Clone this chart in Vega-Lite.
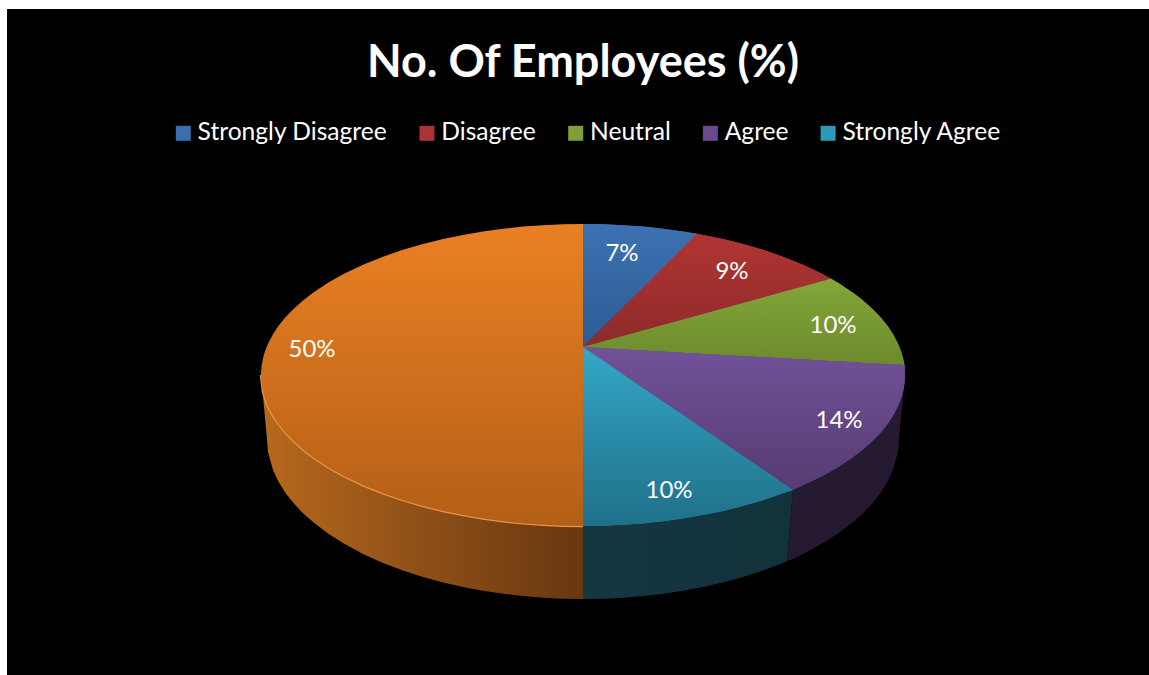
{
  "$schema": "https://vega.github.io/schema/vega-lite/v6.json",
  "width": 1142,
  "height": 666,
  "autosize": {"type": "none"},
  "padding": {"left": 7, "top": 9, "right": 0, "bottom": 0},
  "background": "#ffffff",
  "view": {"fill": "#000000", "stroke": null},
  "title": {
    "text": "No. Of Employees (%)",
    "font": "Lato",
    "fontWeight": "bold",
    "fontSize": 45,
    "color": "#ffffff",
    "anchor": "middle",
    "dx": 5,
    "baseline": "alphabetic",
    "offset": -113
  },
  "datasets": {
    "faces": [
      {"slice": "Strongly Disagree", "x": 0, "y": 123, "y2": 0},
      {"slice": "Strongly Disagree", "x": 20, "y": 122.7, "y2": 19.9},
      {"slice": "Strongly Disagree", "x": 40, "y": 121.8, "y2": 39.7},
      {"slice": "Strongly Disagree", "x": 60, "y": 120.4, "y2": 59.6},
      {"slice": "Strongly Disagree", "x": 80, "y": 118.3, "y2": 79.4},
      {"slice": "Strongly Disagree", "x": 100, "y": 115.5, "y2": 99.3},
      {"slice": "Strongly Disagree", "x": 114, "y": 113.2, "y2": 113.2},

      {"slice": "Disagree", "x": 0, "y": 0, "y2": 0},
      {"slice": "Disagree", "x": 114, "y": 113.2, "y2": 31.4},
      {"slice": "Disagree", "x": 120, "y": 112.1, "y2": 33},
      {"slice": "Disagree", "x": 140, "y": 108, "y2": 38.6},
      {"slice": "Disagree", "x": 160, "y": 103, "y2": 44.1},
      {"slice": "Disagree", "x": 180, "y": 97.2, "y2": 49.6},
      {"slice": "Disagree", "x": 200, "y": 90.3, "y2": 55.1},
      {"slice": "Disagree", "x": 220, "y": 82.3, "y2": 60.6},
      {"slice": "Disagree", "x": 240, "y": 72.7, "y2": 66.1},
      {"slice": "Disagree", "x": 248, "y": 68.3, "y2": 68.3},

      {"slice": "Neutral", "x": 0, "y": 0, "y2": 0},
      {"slice": "Neutral", "x": 248, "y": 68.3, "y2": -13.9},
      {"slice": "Neutral", "x": 255, "y": 64.2, "y2": -14.3},
      {"slice": "Neutral", "x": 270, "y": 54.3, "y2": -15.1},
      {"slice": "Neutral", "x": 280, "y": 46.6, "y2": -15.7},
      {"slice": "Neutral", "x": 290, "y": 37.6, "y2": -16.2},
      {"slice": "Neutral", "x": 298, "y": 29.2, "y2": -16.7},
      {"slice": "Neutral", "x": 305, "y": 20.4, "y2": -17.1},
      {"slice": "Neutral", "x": 310, "y": 12.8, "y2": -17.4},
      {"slice": "Neutral", "x": 315, "y": 3.3, "y2": -17.6},
      {"slice": "Neutral", "x": 318, "y": -4.3, "y2": -17.8},
      {"slice": "Neutral", "x": 320, "y": -11.2, "y2": -17.9},
      {"slice": "Neutral", "x": 321.5, "y": -18, "y2": -18},

      {"slice": "Agree", "x": 0, "y": 0, "y2": 0},
      {"slice": "Agree", "x": 210, "y": -11.8, "y2": -143},
      {"slice": "Agree", "x": 220, "y": -12.3, "y2": -138.3},
      {"slice": "Agree", "x": 240, "y": -13.4, "y2": -128.7},
      {"slice": "Agree", "x": 255, "y": -14.3, "y2": -120.2},
      {"slice": "Agree", "x": 270, "y": -15.1, "y2": -110.3},
      {"slice": "Agree", "x": 280, "y": -15.7, "y2": -102.6},
      {"slice": "Agree", "x": 290, "y": -16.2, "y2": -93.6},
      {"slice": "Agree", "x": 298, "y": -16.7, "y2": -85.2},
      {"slice": "Agree", "x": 305, "y": -17.1, "y2": -76.4},
      {"slice": "Agree", "x": 310, "y": -17.4, "y2": -68.8},
      {"slice": "Agree", "x": 315, "y": -17.6, "y2": -59.3},
      {"slice": "Agree", "x": 318, "y": -17.8, "y2": -51.7},
      {"slice": "Agree", "x": 320, "y": -17.9, "y2": -44.8},
      {"slice": "Agree", "x": 321.5, "y": -18, "y2": -36.4},
      {"slice": "Agree", "x": 322, "y": -28, "y2": -28},

      {"slice": "Strongly Agree", "x": 0, "y": 0, "y2": -179},
      {"slice": "Strongly Agree", "x": 20, "y": -13.6, "y2": -178.7},
      {"slice": "Strongly Agree", "x": 40, "y": -27.2, "y2": -177.8},
      {"slice": "Strongly Agree", "x": 60, "y": -40.9, "y2": -176.4},
      {"slice": "Strongly Agree", "x": 80, "y": -54.5, "y2": -174.3},
      {"slice": "Strongly Agree", "x": 100, "y": -68.1, "y2": -171.5},
      {"slice": "Strongly Agree", "x": 120, "y": -81.7, "y2": -168.1},
      {"slice": "Strongly Agree", "x": 140, "y": -95.3, "y2": -164},
      {"slice": "Strongly Agree", "x": 160, "y": -109, "y2": -159},
      {"slice": "Strongly Agree", "x": 180, "y": -122.6, "y2": -153.2},
      {"slice": "Strongly Agree", "x": 200, "y": -136.2, "y2": -146.3},
      {"slice": "Strongly Agree", "x": 210, "y": -143, "y2": -143},

      {"slice": "Rest", "x": -322, "y": -28, "y2": -28},
      {"slice": "Rest", "x": -321.5, "y": -19.6, "y2": -36.4},
      {"slice": "Rest", "x": -320, "y": -11.2, "y2": -44.8},
      {"slice": "Rest", "x": -318, "y": -4.3, "y2": -51.7},
      {"slice": "Rest", "x": -315, "y": 3.3, "y2": -59.3},
      {"slice": "Rest", "x": -310, "y": 12.8, "y2": -68.8},
      {"slice": "Rest", "x": -305, "y": 20.4, "y2": -76.4},
      {"slice": "Rest", "x": -298, "y": 29.2, "y2": -85.2},
      {"slice": "Rest", "x": -290, "y": 37.6, "y2": -93.6},
      {"slice": "Rest", "x": -280, "y": 46.6, "y2": -102.6},
      {"slice": "Rest", "x": -270, "y": 54.3, "y2": -110.3},
      {"slice": "Rest", "x": -255, "y": 64.2, "y2": -120.2},
      {"slice": "Rest", "x": -240, "y": 72.7, "y2": -128.7},
      {"slice": "Rest", "x": -220, "y": 82.3, "y2": -138.3},
      {"slice": "Rest", "x": -200, "y": 90.3, "y2": -146.3},
      {"slice": "Rest", "x": -180, "y": 97.2, "y2": -153.2},
      {"slice": "Rest", "x": -160, "y": 103, "y2": -159},
      {"slice": "Rest", "x": -140, "y": 108, "y2": -164},
      {"slice": "Rest", "x": -120, "y": 112.1, "y2": -168.1},
      {"slice": "Rest", "x": -100, "y": 115.5, "y2": -171.5},
      {"slice": "Rest", "x": -80, "y": 118.3, "y2": -174.3},
      {"slice": "Rest", "x": -60, "y": 120.4, "y2": -176.4},
      {"slice": "Rest", "x": -40, "y": 121.8, "y2": -177.8},
      {"slice": "Rest", "x": -20, "y": 122.7, "y2": -178.7},
      {"slice": "Rest", "x": 0, "y": 123, "y2": -179}
    ],
    "walls": [
      {"slice": "Rest", "x": -322, "y": -28, "y2": -28},
      {"slice": "Rest", "x": -320, "y": -44.8, "y2": -49.3},
      {"slice": "Rest", "x": -318, "y": -51.7, "y2": -70.7},
      {"slice": "Rest", "x": -316, "y": -57, "y2": -92},
      {"slice": "Rest", "x": -315, "y": -59.3, "y2": -104.7},
      {"slice": "Rest", "x": -310, "y": -68.8, "y2": -123},
      {"slice": "Rest", "x": -305, "y": -76.4, "y2": -133.8},
      {"slice": "Rest", "x": -298, "y": -85.2, "y2": -145.2},
      {"slice": "Rest", "x": -290, "y": -93.6, "y2": -155.6},
      {"slice": "Rest", "x": -280, "y": -102.6, "y2": -166.2},
      {"slice": "Rest", "x": -270, "y": -110.3, "y2": -175.1},
      {"slice": "Rest", "x": -255, "y": -120.2, "y2": -186.5},
      {"slice": "Rest", "x": -240, "y": -128.7, "y2": -196.1},
      {"slice": "Rest", "x": -220, "y": -138.3, "y2": -206.9},
      {"slice": "Rest", "x": -200, "y": -146.3, "y2": -215.9},
      {"slice": "Rest", "x": -180, "y": -153.2, "y2": -223.5},
      {"slice": "Rest", "x": -160, "y": -159, "y2": -230},
      {"slice": "Rest", "x": -140, "y": -164, "y2": -235.4},
      {"slice": "Rest", "x": -120, "y": -168.1, "y2": -240},
      {"slice": "Rest", "x": -100, "y": -171.5, "y2": -243.8},
      {"slice": "Rest", "x": -80, "y": -174.3, "y2": -246.8},
      {"slice": "Rest", "x": -60, "y": -176.4, "y2": -249.1},
      {"slice": "Rest", "x": -40, "y": -177.8, "y2": -250.7},
      {"slice": "Rest", "x": -20, "y": -178.7, "y2": -251.7},
      {"slice": "Rest", "x": 0, "y": -179, "y2": -252},

      {"slice": "Strongly Agree", "x": 0, "y": -179, "y2": -252},
      {"slice": "Strongly Agree", "x": 20, "y": -178.7, "y2": -251.7},
      {"slice": "Strongly Agree", "x": 40, "y": -177.8, "y2": -250.7},
      {"slice": "Strongly Agree", "x": 60, "y": -176.4, "y2": -249.1},
      {"slice": "Strongly Agree", "x": 80, "y": -174.3, "y2": -246.8},
      {"slice": "Strongly Agree", "x": 100, "y": -171.5, "y2": -243.8},
      {"slice": "Strongly Agree", "x": 120, "y": -168.1, "y2": -240},
      {"slice": "Strongly Agree", "x": 140, "y": -164, "y2": -235.4},
      {"slice": "Strongly Agree", "x": 160, "y": -159, "y2": -230},
      {"slice": "Strongly Agree", "x": 180, "y": -153.2, "y2": -223.5},
      {"slice": "Strongly Agree", "x": 200, "y": -146.3, "y2": -215.9},
      {"slice": "Strongly Agree", "x": 204, "y": -145, "y2": -214},
      {"slice": "Strongly Agree", "x": 210, "y": -143, "y2": -143},

      {"slice": "Agree", "x": 204, "y": -214, "y2": -214},
      {"slice": "Agree", "x": 210, "y": -143, "y2": -212},
      {"slice": "Agree", "x": 220, "y": -138.3, "y2": -206.9},
      {"slice": "Agree", "x": 240, "y": -128.7, "y2": -196.1},
      {"slice": "Agree", "x": 255, "y": -120.2, "y2": -186.5},
      {"slice": "Agree", "x": 270, "y": -110.3, "y2": -175.1},
      {"slice": "Agree", "x": 280, "y": -102.6, "y2": -166.2},
      {"slice": "Agree", "x": 290, "y": -93.6, "y2": -155.6},
      {"slice": "Agree", "x": 298, "y": -85.2, "y2": -145.2},
      {"slice": "Agree", "x": 305, "y": -76.4, "y2": -133.8},
      {"slice": "Agree", "x": 310, "y": -68.8, "y2": -123},
      {"slice": "Agree", "x": 315, "y": -59.3, "y2": -104.7},
      {"slice": "Agree", "x": 316, "y": -57, "y2": -92},
      {"slice": "Agree", "x": 318, "y": -51.7, "y2": -70.7},
      {"slice": "Agree", "x": 320, "y": -44.8, "y2": -49.3},
      {"slice": "Agree", "x": 322, "y": -28, "y2": -28}
    ],
    "shares": [
      {"slice": "Strongly Disagree", "value": 0.07, "x": 39, "y": 93},
      {"slice": "Disagree", "value": 0.09, "x": 149, "y": 75},
      {"slice": "Neutral", "value": 0.10, "x": 250, "y": 21},
      {"slice": "Agree", "value": 0.14, "x": 256, "y": -74},
      {"slice": "Strongly Agree", "value": 0.10, "x": 86, "y": -144},
      {"slice": "Rest", "value": 0.50, "x": -271, "y": -3}
    ]
  },
  "encoding": {
    "x": {"field": "x", "type": "quantitative", "axis": null, "scale": {"domain": [-576, 566], "nice": false, "zero": false}},
    "y": {"field": "y", "type": "quantitative", "axis": null, "stack": null, "scale": {"domain": [-328, 338], "nice": false, "zero": false}}
  },
  "layer": [
    {
      "data": {"name": "walls"},
      "transform": [{"filter": "datum.slice === 'Rest'"}],
      "mark": {
        "type": "area", "orient": "vertical", "opacity": 1,
        "line": {"color": "#ee9345", "strokeWidth": 2.4},
        "color": {"gradient": "linear", "x1": 0, "y1": 0, "x2": 1, "y2": 0, "stops": [
          {"offset": 0, "color": "#b8691d"},
          {"offset": 0.45, "color": "#925218"},
          {"offset": 1, "color": "#683710"}
        ]}
      },
      "encoding": {"y2": {"field": "y2"}}
    },
    {
      "data": {"name": "walls"},
      "transform": [{"filter": "datum.slice === 'Strongly Agree'"}],
      "mark": {
        "type": "area", "orient": "vertical", "opacity": 1,
        "color": {"gradient": "linear", "x1": 0, "y1": 0, "x2": 1, "y2": 0, "stops": [
          {"offset": 0, "color": "#143742"},
          {"offset": 1, "color": "#12323b"}
        ]}
      },
      "encoding": {"y2": {"field": "y2"}}
    },
    {
      "data": {"name": "walls"},
      "transform": [{"filter": "datum.slice === 'Agree'"}],
      "mark": {"type": "area", "orient": "vertical", "opacity": 1, "color": "#261a32"},
      "encoding": {"y2": {"field": "y2"}}
    },
    {
      "data": {"name": "faces"},
      "transform": [{"filter": "datum.slice !== 'Rest'"}],
      "mark": {"type": "area", "orient": "vertical"},
      "encoding": {
        "y2": {"field": "y2"},
        "fill": {
          "field": "slice",
          "type": "nominal",
          "scale": {
            "domain": ["Strongly Disagree", "Disagree", "Neutral", "Agree", "Strongly Agree"],
            "range": ["#3a6fae", "#a83433", "#7f9f37", "#69498f", "#2d99b8"]
          },
          "legend": {
            "title": null,
            "orient": "none",
            "legendX": 164,
            "legendY": 112,
            "direction": "horizontal",
            "columns": 5,
            "symbolType": "square",
            "symbolSize": 225,
            "symbolStrokeWidth": 0,
            "labelFont": "Lato",
            "labelFontSize": 24.6,
            "labelColor": "#ffffff",
            "labelLimit": 300,
            "labelOffset": 2,
            "columnPadding": 26.7,
            "gridAlign": "none"
          }
        }
      }
    },
    {
      "data": {"name": "faces"},
      "transform": [{"filter": "datum.slice === 'Strongly Disagree'"}],
      "mark": {"type": "area", "orient": "vertical", "color": {"gradient": "linear", "x1": 0, "y1": 0, "x2": 0, "y2": 1, "stops": [
        {"offset": 0, "color": "#3c71b2"}, {"offset": 1, "color": "#2d5c94"}]}},
      "encoding": {"y2": {"field": "y2"}}
    },
    {
      "data": {"name": "faces"},
      "transform": [{"filter": "datum.slice === 'Disagree'"}],
      "mark": {"type": "area", "orient": "vertical", "color": {"gradient": "linear", "x1": 0, "y1": 0, "x2": 0, "y2": 1, "stops": [
        {"offset": 0, "color": "#b03533"}, {"offset": 1, "color": "#8e2a2a"}]}},
      "encoding": {"y2": {"field": "y2"}}
    },
    {
      "data": {"name": "faces"},
      "transform": [{"filter": "datum.slice === 'Neutral'"}],
      "mark": {"type": "area", "orient": "vertical", "color": {"gradient": "linear", "x1": 0, "y1": 0, "x2": 0, "y2": 1, "stops": [
        {"offset": 0, "color": "#84a63a"}, {"offset": 1, "color": "#6c8a2e"}]}},
      "encoding": {"y2": {"field": "y2"}}
    },
    {
      "data": {"name": "faces"},
      "transform": [{"filter": "datum.slice === 'Agree'"}],
      "mark": {"type": "area", "orient": "vertical", "color": {"gradient": "linear", "x1": 0, "y1": 0, "x2": 0, "y2": 1, "stops": [
        {"offset": 0, "color": "#72529a"}, {"offset": 1, "color": "#573b71"}]}},
      "encoding": {"y2": {"field": "y2"}}
    },
    {
      "data": {"name": "faces"},
      "transform": [{"filter": "datum.slice === 'Strongly Agree'"}],
      "mark": {"type": "area", "orient": "vertical", "color": {"gradient": "linear", "x1": 0, "y1": 0, "x2": 0, "y2": 1, "stops": [
        {"offset": 0, "color": "#34a7c7"}, {"offset": 1, "color": "#1f7089"}]}},
      "encoding": {"y2": {"field": "y2"}}
    },
    {
      "data": {"name": "faces"},
      "transform": [{"filter": "datum.slice === 'Rest'"}],
      "mark": {"type": "area", "orient": "vertical", "color": {"gradient": "linear", "x1": 0, "y1": 0, "x2": 0, "y2": 1, "stops": [
        {"offset": 0, "color": "#ea8023"}, {"offset": 1, "color": "#b35f17"}]}},
      "encoding": {"y2": {"field": "y2"}}
    },
    {
      "data": {"name": "shares"},
      "mark": {"type": "text", "font": "Lato", "fontSize": 24, "color": "#ffffff", "align": "center", "baseline": "middle"},
      "encoding": {"text": {"field": "value", "type": "quantitative", "format": ".0%"}}
    }
  ]
}
